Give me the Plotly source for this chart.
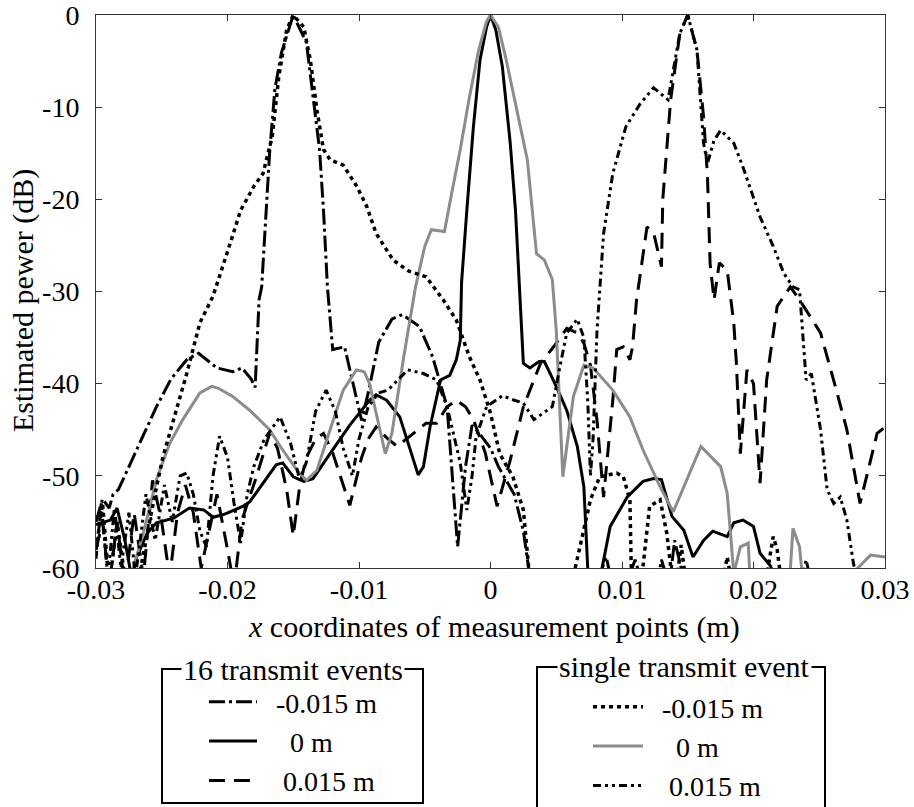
import plotly.graph_objects as go

# ---------------- data (x in m, power in dB) ----------------
# 16 transmit events, focus -0.015 m (dash-dot)
a_x = [-0.0300,-0.0295,-0.0290,-0.0287,-0.0283,-0.0275,-0.0265,-0.0254,-0.0243,-0.0231,-0.0222,-0.0208,-0.0196,-0.0189,-0.0182,-0.0179,-0.0176,-0.0174,-0.0168,-0.0164,-0.0159,-0.0150,-0.0140,-0.0135,-0.0130,-0.0127,-0.0124,-0.0120,-0.0111,-0.0104,-0.0098,-0.0093,-0.0085,-0.0075,-0.0067,-0.0054,-0.0044,-0.0033,-0.0025,-0.0019,-0.0014,-0.0008,0.0000,0.0006,0.0012,0.0018,0.0025,0.0031,0.0045,0.0060,0.0080,0.0088,0.0093,0.0098,0.0105,0.0110,0.0116,0.0124,0.0130,0.0136,0.0140,0.0145,0.0150,0.0158,0.0200,0.0235,0.0240,0.0246,0.0270,0.0300]
a_y = [-55,-52.5,-53.5,-52,-51.5,-49,-46,-42.5,-39.5,-37.4,-36.7,-38.3,-38.7,-38.3,-39.5,-40.4,-30.9,-29.5,-15,-8.1,-4.1,0,-3,-8.5,-14.6,-21.2,-29.5,-36.3,-36,-40.3,-44,-41,-35.5,-33,-32.5,-33.8,-37.1,-42.5,-57.7,-49,-44.5,-45.5,-47,-49,-50.5,-52,-56,-62,-66,-64,-62,-58.8,-62,-64,-61,-59.1,-62,-64,-59.1,-62,-57,-60,-63,-66,-68,-63,-59.1,-63,-68,-70]

# 16 transmit events, focus 0 m (solid black)
b_x = [-0.0300,-0.0289,-0.0284,-0.0278,-0.0273,-0.0269,-0.0261,-0.0254,-0.0241,-0.0229,-0.0218,-0.0211,-0.0203,-0.0188,-0.0183,-0.0173,-0.0163,-0.0158,-0.0150,-0.0142,-0.0135,-0.0122,-0.0107,-0.0092,-0.0087,-0.0079,-0.0069,-0.0055,-0.0051,-0.0046,-0.0038,-0.0031,-0.0026,-0.0023,-0.0022,-0.0018,-0.0013,-0.0008,-0.0003,0.0000,0.0004,0.0009,0.0015,0.0019,0.0022,0.0025,0.0030,0.0037,0.0041,0.0050,0.0058,0.0066,0.0071,0.0074,0.0080,0.0085,0.0091,0.0104,0.0116,0.0124,0.0130,0.0138,0.0147,0.0154,0.0162,0.0169,0.0180,0.0185,0.0192,0.0200,0.0205,0.0213,0.0220,0.0300]
b_y = [-55.3,-54.8,-53.5,-57,-61,-58.8,-56.2,-55.1,-54.6,-53.5,-53.7,-54.5,-54.2,-53.3,-52.8,-50.8,-48.8,-48.6,-50.1,-50.6,-50.3,-47.6,-44.5,-41.8,-41.2,-41.8,-43.6,-49.9,-49,-44.7,-39.6,-39.1,-37.4,-35.3,-29,-21.2,-12.1,-4.9,-1.3,0,-1.6,-5.6,-13.9,-21.2,-29.5,-37.8,-38.3,-37.6,-37.6,-40.3,-42.9,-46.8,-51.2,-60.2,-64,-59.9,-55.5,-52.3,-50.6,-50.3,-50.4,-54.4,-55.9,-58.8,-57,-56,-56.6,-55.1,-54.8,-55.5,-58.4,-59.8,-63,-70]

# 16 transmit events, focus 0.015 m (dashed)
c_x = [-0.0300,-0.0295,-0.0290,-0.0284,-0.0278,-0.0271,-0.0264,-0.0257,-0.0250,-0.0244,-0.0238,-0.0232,-0.0226,-0.0220,-0.0214,-0.0208,-0.0200,-0.0195,-0.0189,-0.0178,-0.0168,-0.0162,-0.0155,-0.0150,-0.0145,-0.0140,-0.0133,-0.0127,-0.0120,-0.0107,-0.0098,-0.0093,-0.0087,-0.0078,-0.0071,-0.0061,-0.0049,-0.0041,-0.0033,-0.0026,-0.0019,-0.0013,-0.0004,0.0005,0.0015,0.0025,0.0038,0.0048,0.0058,0.0066,0.0071,0.0076,0.0081,0.0086,0.0093,0.0096,0.0101,0.0106,0.0108,0.0111,0.0119,0.0124,0.0130,0.0131,0.0137,0.0144,0.0150,0.0157,0.0162,0.0165,0.0167,0.0170,0.0174,0.0180,0.0185,0.0187,0.0190,0.0195,0.0200,0.0205,0.0210,0.0218,0.0228,0.0235,0.0251,0.0263,0.0271,0.0281,0.0294,0.0300]
c_y = [-58,-55,-62,-55,-62,-54,-61,-50.5,-55,-61,-54,-51,-54,-60,-56,-52,-58,-62,-54.8,-50.1,-45.4,-47,-51.5,-56.5,-51,-48,-46,-45.4,-47.5,-53.2,-48,-46,-44.7,-46,-46.8,-45.7,-44.3,-44.3,-42.5,-41.8,-42.5,-43.9,-47.5,-53.3,-48.3,-42.5,-37.8,-36,-34,-34.5,-35.6,-38,-44,-52.3,-41.8,-36.3,-36,-37.4,-36,-31,-23,-23.6,-27.3,-20,-9.2,-2,0,-3.8,-11,-17.5,-27,-30.9,-26.9,-27.7,-33.4,-37.8,-47.6,-38.5,-40,-50.8,-39.6,-31.6,-29.5,-30.9,-34.5,-40.7,-45,-53,-45.4,-44.7]

# single transmit event, focus -0.015 m (dotted)
d_x = [-0.0300,-0.0295,-0.0290,-0.0284,-0.0278,-0.0272,-0.0266,-0.0261,-0.0259,-0.0254,-0.0249,-0.0241,-0.0231,-0.0221,-0.0211,-0.0198,-0.0190,-0.0180,-0.0173,-0.0166,-0.0161,-0.0155,-0.0150,-0.0142,-0.0137,-0.0132,-0.0127,-0.0122,-0.0112,-0.0102,-0.0094,-0.0087,-0.0074,-0.0062,-0.0049,-0.0036,-0.0026,-0.0016,-0.0008,0.0000,0.0007,0.0017,0.0025,0.0029,0.0035,0.0055,0.0065,0.0076,0.0083,0.0096,0.0101,0.0106,0.0107,0.0112,0.0116,0.0121,0.0129,0.0134,0.0137,0.0141,0.0145,0.0149,0.0160,0.0176,0.0180,0.0184,0.0200,0.0211,0.0215,0.0218,0.0220,0.0230,0.0300]
d_y = [-58,-53,-62,-55,-61,-62,-60,-56,-54.8,-51.2,-47.9,-43.9,-38.9,-33.4,-30.5,-24.8,-21.2,-18.6,-17.2,-13.2,-6.7,-1.6,0,-1.3,-4.9,-10.3,-14.6,-15.7,-16.3,-18.5,-20.8,-23.7,-26.6,-27.8,-28.4,-30.9,-33.1,-37.1,-39.6,-43.2,-47.6,-50.1,-53.7,-59.9,-66,-66,-59.8,-52.6,-50.1,-49.7,-50.1,-52.6,-59.8,-64,-59.8,-53.3,-52.6,-56.2,-59.8,-62,-57.5,-62,-68,-62,-58.8,-62,-68,-60,-56.6,-58,-60.2,-66,-70]

# single transmit event, focus 0 m (grey solid)
e_x = [-0.0276,-0.0272,-0.0264,-0.0254,-0.0244,-0.0234,-0.0221,-0.0212,-0.0207,-0.0196,-0.0183,-0.0168,-0.0158,-0.0147,-0.0140,-0.0132,-0.0122,-0.0112,-0.0102,-0.0096,-0.0092,-0.0080,-0.0075,-0.0066,-0.0057,-0.0050,-0.0045,-0.0035,-0.0030,-0.0023,-0.0016,-0.0009,-0.0003,0.0000,0.0006,0.0012,0.0020,0.0028,0.0035,0.0041,0.0047,0.0050,0.0055,0.0063,0.0071,0.0078,0.0093,0.0106,0.0116,0.0129,0.0139,0.0147,0.0160,0.0175,0.0180,0.0185,0.0190,0.0196,0.0197,0.0200,0.0225,0.0228,0.0230,0.0235,0.0237,0.0240,0.0275,0.0278,0.0289,0.0300]
e_y = [-64,-60.2,-56.2,-50.4,-46.5,-43.9,-41,-40.3,-40.5,-41.4,-42.9,-45,-47.2,-49.4,-50.5,-49.4,-45,-40.7,-38.5,-38.7,-40,-47.6,-45.4,-37.1,-29.5,-25.1,-23.3,-23.5,-19.7,-14.6,-8.9,-3.8,-0.7,0,-1.3,-4.9,-10.3,-15.7,-25.9,-26.6,-28.7,-34.2,-50.1,-41.4,-38,-38.3,-40.7,-43.6,-47.2,-51.2,-53.9,-51.2,-46.8,-49,-51.9,-60.6,-57.7,-57.3,-60.2,-65,-65,-60.2,-55.7,-57.7,-60.2,-65,-65,-60.2,-58.6,-58.8]

# single transmit event, focus 0.015 m (dash-dot-dot)
f_x = [-0.0300,-0.0296,-0.0291,-0.0286,-0.0281,-0.0275,-0.0270,-0.0262,-0.0255,-0.0248,-0.0242,-0.0236,-0.0231,-0.0226,-0.0221,-0.0216,-0.0211,-0.0206,-0.0200,-0.0195,-0.0190,-0.0185,-0.0180,-0.0172,-0.0160,-0.0152,-0.0145,-0.0140,-0.0133,-0.0125,-0.0118,-0.0112,-0.0105,-0.0100,-0.0093,-0.0085,-0.0078,-0.0063,-0.0051,-0.0041,-0.0033,-0.0023,-0.0018,-0.0014,-0.0011,-0.0003,0.0009,0.0018,0.0025,0.0033,0.0040,0.0047,0.0053,0.0058,0.0066,0.0071,0.0074,0.0076,0.0078,0.0081,0.0086,0.0093,0.0103,0.0114,0.0124,0.0131,0.0135,0.0144,0.0150,0.0157,0.0162,0.0165,0.0170,0.0175,0.0185,0.0192,0.0205,0.0215,0.0223,0.0230,0.0235,0.0240,0.0244,0.0251,0.0256,0.0261,0.0266,0.0271,0.0276,0.0282,0.0300]
f_y = [-59,-53,-61,-53.5,-60,-54,-61,-52,-57,-51,-55,-50,-49.7,-52,-56,-57.7,-50,-45.7,-48,-53,-57.3,-52,-49,-46,-43.6,-46.5,-50.5,-48.5,-43,-40.7,-43,-47,-50,-46,-42.5,-41,-40.7,-38.5,-38.9,-39.6,-42.5,-48.6,-53.7,-50,-45.8,-42.5,-41.3,-41.8,-42.1,-43.9,-43.2,-42.5,-38,-34.5,-33,-35,-42,-50,-46,-34.2,-23.7,-17.2,-12.1,-9.6,-7.9,-8.7,-9.2,-2,0,-3.8,-13.9,-16.1,-13.6,-12.5,-13.9,-16.5,-21.9,-25.1,-28,-29.5,-29.8,-39.6,-38.9,-45,-51.5,-53,-52.3,-54.8,-59.5,-63,-68]

NB = "\u00a0"
series_names = [NB * 2 + "-0.015 m", NB * 4 + "0 m", NB * 3 + "0.015 m"]
x_tick_vals = [-0.03, -0.02, -0.01, 0, 0.01, 0.02, 0.03]
x_tick_text = ["-0.03", "-0.02", "-0.01", "0", "0.01", "0.02", "0.03"]
y_tick_vals = [-60, -50, -40, -30, -20, -10, 0]
y_tick_text = ["-60", "-50", "-40", "-30", "-20", "-10", "0"]

FONT = '"Liberation Serif", "Times New Roman", "DejaVu Serif", serif'
fig = go.Figure()

def add(x, y, name, color, dash, width, legend, rank):
    fig.add_trace(go.Scatter(x=x, y=y, mode="lines", name=name,
                             line=dict(color=color, dash=dash, width=width),
                             legend=legend, legendgroup=legend + str(rank),
                             legendrank=rank, showlegend=True))

add(a_x, a_y, series_names[0], "black", "16px,4px,3px,4px", 3, "legend", 1)
add(b_x, b_y, series_names[1], "black", "solid", 3, "legend", 2)
add(c_x, c_y, series_names[2], "black", "16px,9px", 3, "legend", 3)
add(e_x, e_y, series_names[1], "#8c8c8c", "solid", 3, "legend2", 2)
add(d_x, d_y, series_names[0], "black", "4px,4px", 3.5, "legend2", 1)
add(f_x, f_y, series_names[2], "black", "8px,4px,3px,4px,3px,4px", 3, "legend2", 3)

L, R, T, B = 96, 29, 15, 239
W, H = 914, 807
pw, ph = W - L - R, H - T - B

def px(xp):
    return (xp - L) / pw

def py(yp):
    return (H - B - yp) / ph

LEG_FONT = 28
fig.update_layout(
    width=W, height=H,
    margin=dict(l=L, r=R, t=T, b=B, autoexpand=False),
    paper_bgcolor="white", plot_bgcolor="white",
    font=dict(family=FONT, size=29, color="black"),
    xaxis=dict(range=[-0.03, 0.03], tickvals=x_tick_vals, ticktext=x_tick_text,
               ticks="inside", ticklen=6, tickcolor="#333", mirror="ticks",
               showline=True, linecolor="#333", linewidth=1, showgrid=False,
               zeroline=False, tickfont=dict(size=28), ticklabelstandoff=-4,
               ticklabeloverflow="allow"),
    yaxis=dict(range=[-60, 0], tickvals=y_tick_vals, ticktext=y_tick_text,
               ticks="inside", ticklen=6, tickcolor="#333", mirror="ticks",
               showline=True, linecolor="#333", linewidth=1, showgrid=False,
               zeroline=False, tickfont=dict(size=28), ticklabelstandoff=10,
               ticklabeloverflow="allow"),
    legend=dict(xref="container", yref="container", x=204 / W, y=1 - 677 / H,
                xanchor="left", yanchor="top",
                bgcolor="rgba(0,0,0,0)", borderwidth=0, font=dict(size=LEG_FONT),
                tracegroupgap=0, itemwidth=48),
    legend2=dict(xref="container", yref="container", x=588 / W, y=1 - 682 / H,
                 xanchor="left", yanchor="top",
                 bgcolor="rgba(0,0,0,0)", borderwidth=0, font=dict(size=LEG_FONT),
                 tracegroupgap=0, itemwidth=50),
)

# legend frames
fig.add_shape(type="rect", xref="paper", yref="paper",
              x0=px(162), x1=px(423), y0=py(803), y1=py(669),
              line=dict(color="black", width=2), layer="above")
fig.add_shape(type="rect", xref="paper", yref="paper",
              x0=px(537), x1=px(825), y0=py(835), y1=py(667),
              line=dict(color="black", width=2), layer="above")

annotations = [
    dict(text="16 transmit events", x=px(293), y=py(669), xref="paper", yref="paper",
         showarrow=False, bgcolor="white", font=dict(size=30), xanchor="center",
         yanchor="middle", borderpad=1),
    dict(text="single transmit event", x=px(684), y=py(667), xref="paper", yref="paper",
         showarrow=False, bgcolor="white", font=dict(size=30), xanchor="center",
         yanchor="middle", borderpad=1),
    dict(text="<i>x</i> coordinates of measurement points (m)", x=px(494), y=py(627),
         xref="paper", yref="paper", showarrow=False, font=dict(size=30),
         xanchor="center", yanchor="middle"),
    dict(text="Estimated pewer (dB)", x=px(23), y=py(301), xref="paper", yref="paper",
         showarrow=False, font=dict(size=30), textangle=-90,
         xanchor="center", yanchor="middle"),
]
fig.update_layout(annotations=annotations)

fig.write_html("out.html", config={"displayModeBar": False},
               post_script="document.body.style.margin='0px';document.body.style.overflow='hidden';")
